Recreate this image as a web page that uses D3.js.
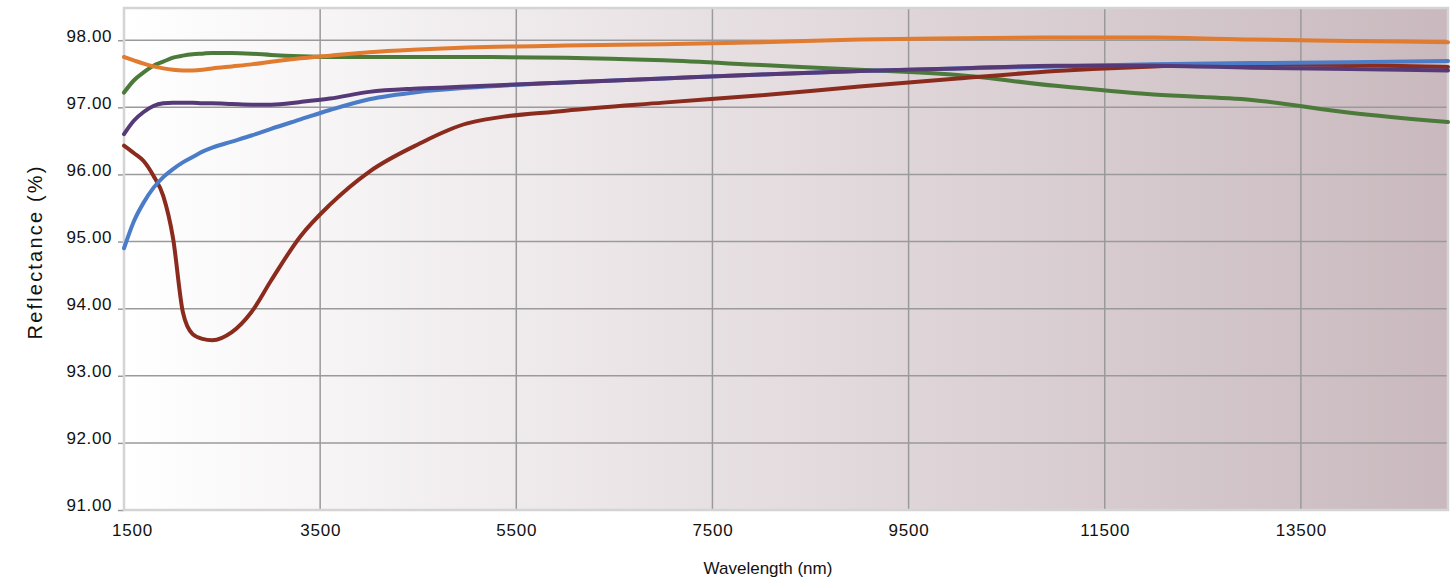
<!DOCTYPE html>
<html lang="en">
<head>
<meta charset="UTF-8">
<script src="https://cdn.jsdelivr.net/npm/d3@7"></script>
<title>Reflectance</title>
<style>
  body { margin: 0; background: #fff; }
  text { font-family: "Liberation Sans", Arial, sans-serif; fill: #111; }
</style>
</head>
<body>
<svg width="1452" height="582"></svg>
<script>
// wavelength grid (nm) shared by all curves
const wavelength = [1500, 1600, 1700, 1800, 1900, 2000, 2100, 2200, 2300, 2400, 2600, 2800, 3000, 3300, 3600,
  4000, 4500, 5000, 6000, 7000, 8000, 9000, 10000, 11000, 12000, 13000, 14000, 15000];

// reflectance (%)
const orange = [97.75, 97.70, 97.65, 97.61, 97.58, 97.56, 97.55, 97.55, 97.56, 97.58, 97.61, 97.64, 97.68, 97.73, 97.77,
  97.82, 97.86, 97.89, 97.92, 97.94, 97.97, 98.01, 98.03, 98.04, 98.04, 98.01, 97.99, 97.97];
const green = [97.22, 97.40, 97.52, 97.62, 97.68, 97.74, 97.77, 97.79, 97.80, 97.81, 97.81, 97.80, 97.78, 97.76, 97.75,
  97.75, 97.75, 97.75, 97.74, 97.70, 97.63, 97.56, 97.48, 97.32, 97.19, 97.11, 96.92, 96.78];
const purple = [96.60, 96.80, 96.93, 97.02, 97.06, 97.07, 97.07, 97.07, 97.06, 97.06, 97.05, 97.04, 97.04, 97.08, 97.13,
  97.23, 97.28, 97.31, 97.37, 97.43, 97.49, 97.54, 97.58, 97.62, 97.62, 97.59, 97.57, 97.55];
const blue = [94.90, 95.30, 95.58, 95.80, 95.96, 96.08, 96.18, 96.26, 96.34, 96.40, 96.49, 96.58, 96.68, 96.82, 96.96,
  97.12, 97.23, 97.29, 97.37, 97.43, 97.49, 97.54, 97.58, 97.61, 97.64, 97.66, 97.67, 97.69];
const brown = [96.43, 96.32, 96.20, 95.98, 95.68, 95.05, 93.95, 93.62, 93.55, 93.53, 93.65, 93.95, 94.42, 95.08, 95.55,
  96.04, 96.45, 96.76, 96.95, 97.07, 97.18, 97.31, 97.43, 97.54, 97.61, 97.64, 97.63, 97.60];

const xTicks = [1500, 3500, 5500, 7500, 9500, 11500, 13500];
const yTicks = [91, 92, 93, 94, 95, 96, 97, 98];

const svg = d3.select('svg');
const plot = { left: 124, right: 1448, top: 8, bottom: 510 };

const x = d3.scaleLinear().domain([1500, 15000]).range([plot.left, plot.right]);
const y = d3.scaleLinear().domain([91, 98.48]).range([plot.bottom, plot.top]);

// background gradient
const grad = svg.append('defs').append('linearGradient')
  .attr('id', 'bg').attr('x1', '0%').attr('x2', '100%').attr('y1', '0%').attr('y2', '0%');
grad.append('stop').attr('offset', '0%').attr('stop-color', '#ffffff');
grad.append('stop').attr('offset', '100%').attr('stop-color', '#c9b9be');

svg.append('rect')
  .attr('x', plot.left).attr('y', plot.top)
  .attr('width', plot.right - plot.left).attr('height', plot.bottom - plot.top)
  .attr('fill', 'url(#bg)');

// horizontal grid + y labels
const yAxis = svg.append('g')
  .attr('transform', `translate(${plot.left},0)`)
  .call(d3.axisLeft(y).tickValues(yTicks).tickFormat(d3.format('.2f')).tickSize(6).tickPadding(6));
yAxis.select('.domain').remove();
yAxis.selectAll('line').attr('stroke', '#999').attr('stroke-width', 1.5);
yAxis.selectAll('text')
  .attr('font-size', 17).attr('letter-spacing', 0.6).attr('dy', '0.05em');

svg.append('g').selectAll('line')
  .data(yTicks.filter(d => d > 91))
  .join('line')
  .attr('x1', plot.left).attr('x2', plot.right)
  .attr('y1', d => y(d)).attr('y2', d => y(d))
  .attr('stroke', '#9a9a9a').attr('stroke-width', 1.5);

// vertical grid
svg.append('g').selectAll('line')
  .data(xTicks.filter(d => d > 1500))
  .join('line')
  .attr('x1', d => x(d)).attr('x2', d => x(d))
  .attr('y1', plot.top).attr('y2', plot.bottom)
  .attr('stroke', '#9a9a9a').attr('stroke-width', 1.5);

// x labels
const xAxis = svg.append('g')
  .attr('transform', `translate(0,${plot.bottom})`)
  .call(d3.axisBottom(x).tickValues(xTicks).tickFormat(d3.format('d')).tickSize(0).tickPadding(14));
xAxis.select('.domain').remove();
xAxis.selectAll('text')
  .attr('font-size', 17).attr('letter-spacing', 0.8)
  .attr('dx', d => d === 1500 ? 8 : 0);

// frame
svg.append('rect')
  .attr('x', plot.left).attr('y', plot.top)
  .attr('width', plot.right - plot.left).attr('height', plot.bottom - plot.top)
  .attr('fill', 'none').attr('stroke', '#d4d4d4').attr('stroke-width', 2.5);

// curves
const series = [
  { values: green, color: '#4b7a3a' },
  { values: brown, color: '#8b2b1d' },
  { values: blue, color: '#4a7cc8' },
  { values: purple, color: '#563a78' },
  { values: orange, color: '#e07b2f' }
];

const line = d3.line()
  .x((d, i) => x(wavelength[i]))
  .y(d => y(d))
  .curve(d3.curveMonotoneX);

svg.append('g').selectAll('path')
  .data(series)
  .join('path')
  .attr('d', d => line(d.values))
  .attr('fill', 'none')
  .attr('stroke', d => d.color)
  .attr('stroke-width', 4)
  .attr('stroke-linejoin', 'round')
  .attr('stroke-linecap', 'round');

// axis titles
svg.append('text')
  .attr('x', 768).attr('y', 574)
  .attr('text-anchor', 'middle')
  .attr('font-size', 17)
  .text('Wavelength (nm)');

svg.append('text')
  .attr('transform', 'translate(42,253) rotate(-90)')
  .attr('text-anchor', 'middle')
  .attr('font-size', 20)
  .attr('textLength', 173)
  .text('Reflectance (%)');
</script>
</body>
</html>
